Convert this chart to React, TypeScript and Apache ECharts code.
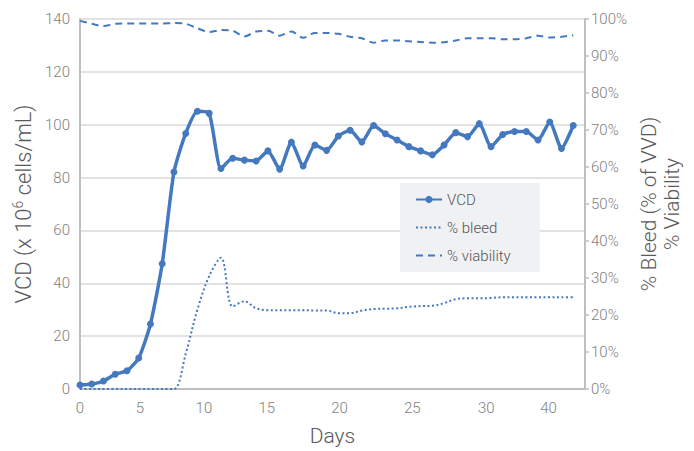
import React, { useEffect, useRef } from "react";
import * as echarts from "echarts";

const days = [0, 1, 2, 3, 4, 5, 6, 7, 8, 9, 10, 11, 12, 13, 14, 15, 16, 17, 18, 19, 20, 21, 22, 23, 24, 25, 26, 27, 28, 29, 30, 31, 32, 33, 34, 35, 36, 37, 38, 39, 40, 41, 42];

const vcd = [1.5, 1.9, 3.0, 5.6, 6.9, 11.7, 24.6, 47.4, 82.1, 96.7, 105.1, 104.3, 83.4, 87.3, 86.6, 86.3, 90.1, 83.2, 93.4, 84.4, 92.3, 90.3, 95.7, 97.9, 93.5, 99.7, 96.6, 94.2, 91.7, 90.1, 88.6, 92.3, 97.0, 95.5, 100.4, 91.7, 96.3, 97.4, 97.4, 94.2, 101.0, 91.0, 99.7];

const bleed = [0, 0, 0, 0, 0, 0, 0, 0, 0, 9.5, 21.5, 30.5, 35.5, 22.3, 23.7, 21.8, 21.3, 21.3, 21.3, 21.3, 21.2, 21.2, 20.5, 20.5, 21.2, 21.6, 21.7, 21.8, 22.2, 22.4, 22.5, 23.2, 24.3, 24.5, 24.5, 24.6, 24.8, 24.8, 24.8, 24.8, 24.8, 24.8, 24.8];

const viability = [99.5, 98.7, 98.1, 98.7, 98.8, 98.8, 98.8, 98.8, 98.9, 98.7, 97.5, 96.5, 97.0, 96.8, 95.3, 96.6, 96.8, 95.5, 96.6, 94.9, 96.2, 96.2, 96.0, 95.2, 94.8, 93.6, 94.2, 94.2, 94.0, 93.8, 93.6, 93.7, 94.2, 94.8, 94.8, 94.8, 94.5, 94.5, 94.8, 95.5, 95.0, 95.2, 95.6];

// x-axis tick labels as printed in the reference, and where along the day axis each one sits
const xTickLabels = ["0", "5", "10", "15", "20", "25", "30", "40"];
const xTickValues = [0, 5.1, 10.55, 15.9, 22.1, 28.3, 34.6, 39.9];

const seriesNames = ["VCD", "% bleed", "% viability"];

const FONT = "Roboto, 'Liberation Sans', Arial, sans-serif";
const BLUE = "#4479bf";
const AXIS_GRAY = "#bfbfbf";
const LABEL_GRAY = "#7f7f7f";
const TITLE_GRAY = "#595959";

export default function App() {
  const ref = useRef<HTMLDivElement>(null);

  useEffect(() => {
    if (!ref.current) return;
    const chart = echarts.init(ref.current, undefined, { renderer: "svg" });
    const option: any = {
      animation: false,
      backgroundColor: "#ffffff",
      textStyle: { fontFamily: FONT, fontWeight: 300 },
      grid: { left: 80, right: 109, top: 19, bottom: 60, containLabel: false },
      legend: {
        left: 400,
        top: 183,
        orient: "vertical",
        backgroundColor: "#f0f1f3",
        padding: [9, 29, 9, 15],
        itemGap: 13,
        itemWidth: 26,
        itemHeight: 9,
        textStyle: { fontSize: 15, color: "#555555", fontFamily: FONT, fontWeight: 300 },
        data: [
          { name: seriesNames[0] },
          { name: seriesNames[1], itemStyle: { opacity: 0 } },
          { name: seriesNames[2], itemStyle: { opacity: 0 } },
        ],
      },
      xAxis: {
        type: "value",
        min: 0,
        max: 43,
        name: "Days",
        nameLocation: "middle",
        nameGap: 36,
        nameTextStyle: { fontSize: 21, color: TITLE_GRAY, fontFamily: FONT, fontWeight: 300 },
        axisLine: { show: true, lineStyle: { color: AXIS_GRAY, width: 2 } },
        axisTick: { show: false },
        splitLine: { show: false },
        axisLabel: {
          customValues: xTickValues,
          fontSize: 15,
          color: LABEL_GRAY,
          margin: 11,
          fontFamily: FONT,
          fontWeight: 300,
          formatter: (v: number) => {
            let best = 0;
            for (let i = 1; i < xTickValues.length; i++) {
              if (Math.abs(xTickValues[i] - v) < Math.abs(xTickValues[best] - v)) best = i;
            }
            return xTickLabels[best];
          },
        },
      },
      yAxis: [
        {
          type: "value",
          min: 0,
          max: 140,
          interval: 20,
          name: "VCD (x 10{sup|6} cells/mL)",
          nameLocation: "middle",
          nameGap: 44,
          nameRotate: 90,
          nameTextStyle: {
            fontSize: 22,
            color: TITLE_GRAY,
            fontFamily: FONT,
            fontWeight: 300,
            rich: {
              sup: { fontSize: 14, color: TITLE_GRAY, fontFamily: FONT, fontWeight: 300, verticalAlign: "top", padding: [0, 0, 10, 0] },
            },
          },
          axisLine: { show: true, lineStyle: { color: AXIS_GRAY, width: 2 } },
          axisTick: { show: false },
          splitLine: { show: true, lineStyle: { color: "#d9d9d9", width: 1.5 } },
          axisLabel: { fontSize: 15, color: LABEL_GRAY, margin: 10, fontFamily: FONT, fontWeight: 300 },
        },
        {
          type: "value",
          position: "right",
          min: 0,
          max: 100,
          interval: 10,
          name: "% Bleed (% of VVD)\n% Viability",
          nameLocation: "middle",
          nameGap: 51,
          nameRotate: 90,
          nameTextStyle: { fontSize: 21, lineHeight: 23, color: TITLE_GRAY, fontFamily: FONT, fontWeight: 300, align: "center" },
          axisLine: { show: true, lineStyle: { color: AXIS_GRAY, width: 2 } },
          axisTick: { show: true, inside: false, length: 4, lineStyle: { color: AXIS_GRAY, width: 1.5 } },
          splitLine: { show: false },
          axisLabel: { fontSize: 15, color: LABEL_GRAY, margin: 6, fontFamily: FONT, fontWeight: 300, formatter: "{value}%" },
        },
      ],
      series: [
        {
          name: seriesNames[2],
          type: "line",
          yAxisIndex: 1,
          data: days.map((d, i) => [d, viability[i]]),
          symbol: "none",
          smooth: 0.3,
          lineStyle: { color: BLUE, width: 2, type: [7, 5] },
          itemStyle: { color: BLUE },
          z: 2,
        },
        {
          name: seriesNames[1],
          type: "line",
          yAxisIndex: 1,
          data: days.map((d, i) => [d, bleed[i]]),
          symbol: "none",
          smooth: 0.35,
          lineStyle: { color: BLUE, width: 2, type: [2, 2.5] },
          itemStyle: { color: BLUE },
          z: 2,
        },
        {
          name: seriesNames[0],
          type: "line",
          yAxisIndex: 0,
          data: days.map((d, i) => [d, vcd[i]]),
          symbol: "circle",
          symbolSize: 7,
          showSymbol: true,
          smooth: 0.2,
          lineStyle: { color: BLUE, width: 3.5 },
          itemStyle: { color: BLUE },
          z: 3,
        },
      ],
    };
    chart.setOption(option);
    return () => chart.dispose();
  }, []);

  return <div ref={ref} style={{ position: "absolute", left: 0, top: 0, width: 694, height: 451 }} />;
}
